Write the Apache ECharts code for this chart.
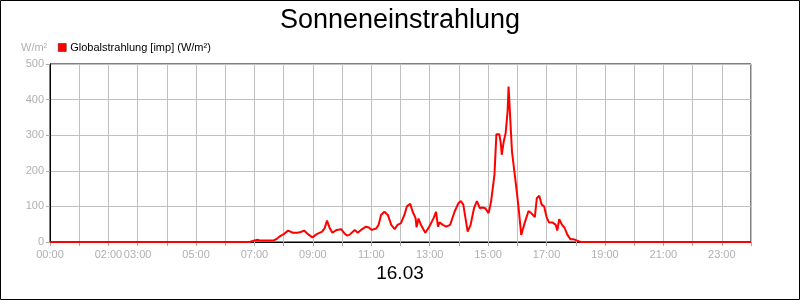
<!DOCTYPE html>
<html>
<head>
<meta charset="utf-8">
<script src="https://cdn.jsdelivr.net/npm/echarts@6/dist/echarts.min.js"></script>
<style>
html,body{margin:0;padding:0;background:#fff;}
#chart{width:800px;height:300px;}
</style>
</head>
<body>
<div id="chart"></div>
<script>
var titleText = "Sonneneinstrahlung";
var dateText = "16.03";
var seriesName = "Globalstrahlung [imp] (W/m²)";
var unitText = "W/m²";
var tickLabels = ["00:00","02:00","03:00","05:00","07:00","09:00","11:00","13:00","15:00","17:00","19:00","21:00","23:00"];
var yTicks = [0,100,200,300,400,500];

var times = ["00:00","06:50","06:55","07:00","07:05","07:10","07:20","07:30","07:40","07:45","07:52",
"08:00","08:09","08:19","08:28","08:35","08:42","08:50","08:59",
"09:08","09:19","09:24","09:29","09:34","09:40","09:49","09:58",
"10:05","10:10","10:15","10:26","10:32","10:39","10:49","10:55",
"11:01","11:10","11:15","11:20","11:27","11:34","11:41","11:48","11:54",
"12:01","12:08","12:13","12:20","12:25","12:31","12:33","12:37","12:42","12:51","12:59",
"13:08","13:13","13:17","13:20","13:27","13:34","13:42","13:51","13:59",
"14:04","14:09","14:18","14:24","14:31","14:37","14:43","14:48","14:54",
"15:01","15:06","15:13","15:17","15:23","15:26","15:28","15:32","15:36","15:40","15:42","15:45","15:49","15:54","15:59",
"16:03","16:08","16:15","16:23","16:28","16:36","16:40","16:45","16:50","16:55",
"17:00","17:05","17:12","17:19","17:22","17:26","17:29","17:32","17:37","17:43","17:49","17:55",
"18:03","18:10","24:00"];
var values = [0,0,2,4,6,5,4,4,5,8,16,
22,32,26,26,28,32,22,13,
22,29,38,60,41,26,34,36,
24,18,20,34,26,34,43,41,
34,38,48,76,85,76,48,36,48,
53,76,100,107,85,67,41,66,48,26,43,
67,85,43,55,48,43,48,85,109,
115,105,29,48,95,115,95,97,95,
81,113,189,303,303,278,245,282,306,367,437,437,254,198,140,
90,20,53,87,82,70,123,130,105,100,
70,55,55,48,32,64,61,48,40,20,8,8,
4,0,0];

function toHours(t){var p=t.split(':');return (+p[0])+(+p[1])/60;}
var data = times.map(function(t,i){return [toHours(t), values[i]];});

var font = "Liberation Sans, Arial, sans-serif";
var chart = echarts.init(document.getElementById('chart'), null, {renderer:'canvas'});
chart.setOption({
  animation:false,
  backgroundColor:'#fff',
  title:{text:titleText,left:'center',top:2,textStyle:{fontFamily:font,fontSize:27,fontWeight:'normal',color:'#000'}},
  legend:{left:53,top:37,itemWidth:8,itemHeight:8,itemGap:5,icon:'rect',
    textStyle:{fontFamily:font,fontSize:11,color:'#000',padding:[0,0,0,-1]},
    data:[{name:seriesName,itemStyle:{color:'#ff0000',borderColor:'#600',borderWidth:0.5}}]},
  grid:{left:50,right:49,top:64,bottom:58,show:true,borderColor:'#000',borderWidth:1,backgroundColor:'transparent'},
  xAxis:{type:'value',min:0,max:24,interval:1,
    axisLine:{show:true,lineStyle:{color:'#000',width:1}},
    axisTick:{show:true,length:4,lineStyle:{color:'#aaa'}},
    splitLine:{show:true,lineStyle:{color:'#c0c0c0',width:1}},
    axisLabel:{margin:7,color:'#b0b0b0',fontFamily:font,fontSize:11,showMaxLabel:true,
      formatter:function(v){var s=(v<10?'0':'')+Math.round(v)+':00';return tickLabels.indexOf(s)>=0?s:'';}}},
  yAxis:{type:'value',min:0,max:500,interval:100,
    axisLine:{show:true,lineStyle:{color:'#000',width:1}},
    axisTick:{show:true,length:4,lineStyle:{color:'#aaa'}},
    splitLine:{show:true,lineStyle:{color:'#c0c0c0',width:1}},
    axisLabel:{margin:6,color:'#b0b0b0',fontFamily:font,fontSize:11,
      formatter:function(v){return yTicks.indexOf(v)>=0?String(v):'';}}},
  series:[{name:seriesName,type:'line',data:data,showSymbol:false,smooth:false,
    lineStyle:{color:'#ff0000',width:2},itemStyle:{color:'#ff0000'},z:3}],
  graphic:[
    {type:'rect',shape:{x:0.5,y:0.5,width:799,height:299},style:{fill:'none',stroke:'#000',lineWidth:1},silent:true},
    {type:'text',left:21,top:42,style:{text:unitText,fill:'#b0b0b0',font:'11px '+font}},
    {type:'text',left:'center',top:264,style:{text:dateText,fill:'#000',font:'19px '+font}}
  ]
});
</script>
</body>
</html>
